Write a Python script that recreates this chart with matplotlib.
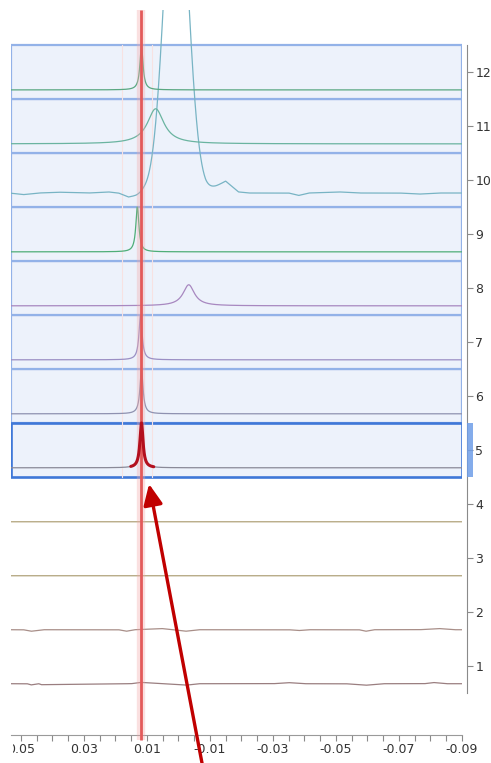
import numpy as np
import matplotlib.pyplot as plt
from matplotlib.patches import Rectangle
from matplotlib.ticker import FixedLocator, MultipleLocator
from matplotlib.transforms import blended_transform_factory, Bbox, TransformedBbox

plt.rcParams['axes.unicode_minus'] = False

# stacked traces, bottom row first
rows = [1, 2, 3, 4, 5, 6, 7, 8, 9, 10, 11, 12]
base_drop = [0.33, 0.33, 0.33, 0.33, 0.33, 0.33, 0.33, 0.33, 0.33, 0.24, 0.33, 0.33]  # baseline below row tick
peak_pos = [0.0, 0.0, 0.0, 0.0, 0.0117, 0.0117, 0.0120, -0.0033, 0.0130, 0.0007, 0.0072, 0.0117]  # ppm
peak_height = [0.0, 0.0, 0.0, 0.0, 0.83, 0.81, 0.83, 0.39, 0.83, 6.6, 0.65, 0.81]  # row units
peak_width = [0.001, 0.001, 0.001, 0.001, 0.0006, 0.0006, 0.0006, 0.0022, 0.0006, 0.0036, 0.0032, 0.0006]
peak_shape = ["none", "none", "none", "none", "lorentz", "lorentz", "lorentz", "lorentz",
              "lorentz", "gauss", "lorentz", "lorentz"]
trace_colors = ["#9a7e80", "#a88e88", "#b0a27a", "#b0a27a", "#8a8a98", "#8f92b0",
                "#9b8fc4", "#a888c0", "#4fae78", "#78b4c4", "#6ab4a0", "#5aa882"]

selected_rows = [5, 6, 7, 8, 9, 10, 11, 12]
active_row = 5
ref_ppm = 0.0117          # red reference line
active_range = (0.0151, 0.0078)  # part of the active trace drawn in red
region_lines = [0.018, 0.0085]

# baseline wiggles: ppm, offset in row units
wig10_x = [0.0537, 0.0492, 0.0443, 0.0380, 0.0285, 0.0222, 0.0190, 0.0158, 0.0133, 0.0110,
           -0.0087, -0.0119, -0.0150, -0.0191, -0.0223, -0.0350, -0.0382, -0.0414, -0.0510,
           -0.0573, -0.0700, -0.0764, -0.0827, -0.0898]
wig10_y = [0.0, -0.03, 0.0, 0.015, 0.0, 0.02, 0.0, -0.075, -0.05, 0.0,
           0.03, 0.12, 0.22, 0.02, 0.0, 0.0, -0.045, 0.0, 0.02,
           0.0, 0.0, -0.02, 0.0, 0.0]
wig2_x = [0.0537, 0.0492, 0.0467, 0.0428, 0.0190, 0.0165, 0.0139, 0.0053, 0.0015, -0.0023,
          -0.0065, -0.0350, -0.0382, -0.0414, -0.0573, -0.0595, -0.0621, -0.0764, -0.0827,
          -0.0875, -0.0898]
wig2_y = [0.0, 0.0, -0.028, 0.0, 0.0, -0.028, 0.0, 0.022, 0.0, -0.028,
          0.0, 0.0, -0.015, 0.0, 0.0, -0.028, 0.0, 0.0, 0.022,
          0.0, 0.0]
wig1_x = [0.0537, 0.0480, 0.0467, 0.0443, 0.0435, 0.0190, 0.0150, 0.0120, 0.0050, -0.0023,
          -0.0065, -0.0300, -0.0350, -0.0400, -0.0530, -0.0595, -0.0650, -0.0780, -0.0810,
          -0.0850, -0.0898]
wig1_y = [0.0, 0.0, -0.022, 0.0, -0.018, 0.0, 0.0, 0.025, 0.0, -0.028,
          0.0, 0.0, 0.02, 0.0, 0.0, -0.028, 0.0, 0.0, 0.022,
          0.0, 0.0]
wiggles = {10: (wig10_x, wig10_y), 2: (wig2_x, wig2_y), 1: (wig1_x, wig1_y)}

x_left, x_right = 0.0531, -0.0900
y_bottom, y_top = -0.28, 13.15
xticks = [0.05, 0.03, 0.01, -0.01, -0.03, -0.05, -0.07, -0.09]


def trace(x, i):
    c, h, w = peak_pos[i], peak_height[i], peak_width[i]
    if peak_shape[i] == "lorentz":
        y = h / (1 + ((x - c) / w) ** 2)
    elif peak_shape[i] == "gauss":
        y = h * np.exp(-0.5 * ((x - c) / w) ** 2)
    else:
        y = np.zeros_like(x)
    if rows[i] in wiggles:
        wx, wy = wiggles[rows[i]]
        y = y + np.interp(x, wx[::-1], wy[::-1])
    return rows[i] - base_drop[i] + y


fig = plt.figure(figsize=(4.91, 7.63), dpi=100)
ax = fig.add_axes([11 / 491, 28 / 763, 451 / 491, 725 / 763])
ax.set_xlim(x_left, x_right)
ax.set_ylim(y_bottom, y_top)

# selected rows get a light blue box
for r in selected_rows:
    active = r == active_row
    ax.add_patch(Rectangle((x_left, r - 0.5), x_right - x_left, 1.0,
                           facecolor="#edf2fb", edgecolor="#3f78d8" if active else "#93b2e8",
                           lw=1.9 if active else 1.6, zorder=1 if not active else 1.5))

for xr in region_lines:
    ax.plot([xr, xr], [4.5, 12.5], color="#f7e2e2", lw=0.8, zorder=1.6)

x = np.linspace(x_left, x_right, 3000)
for i, r in enumerate(rows):
    ax.plot(x, trace(x, i), color=trace_colors[i], lw=0.9, zorder=2)

# reference line with soft halo, running past the axes
ax.plot([ref_ppm, ref_ppm], [y_top, -0.37], color="#f2a8a8", lw=6, alpha=0.35,
        clip_on=False, zorder=3, solid_capstyle="butt")
ax.plot([ref_ppm, ref_ppm], [y_top, -0.37], color="#e35a5a", lw=2.0,
        clip_on=False, zorder=3.1, solid_capstyle="butt")

# active trace peak drawn thick red
ia = rows.index(active_row)
xa = np.linspace(active_range[0], active_range[1], 300)
ax.plot(xa, trace(xa, ia), color="#b3101e", lw=2.2, zorder=4, solid_capstyle="round")

# small blue tab next to the active row
tr = blended_transform_factory(ax.transAxes, ax.transData)
ax.add_patch(Rectangle((1.012, active_row - 0.5), 0.012, 1.0, transform=tr,
                       facecolor="#6f9ee8", edgecolor="none", alpha=0.85, clip_on=False, zorder=5))

# axes styling
for s in ["left", "top"]:
    ax.spines[s].set_visible(False)
ax.spines["right"].set_position(("outward", 3.6))
ax.spines["right"].set_bounds(0.5, 12.5)
ax.spines["right"].set_color("#8a8a8a")
ax.spines["bottom"].set_color("#9a9a9a")
ax.yaxis.tick_right()
ax.set_yticks(rows)
ax.set_yticklabels([str(r) for r in rows])
ax.xaxis.set_major_locator(FixedLocator(xticks))
ax.xaxis.set_minor_locator(MultipleLocator(0.005))
ax.set_xticklabels(["%.2f" % t for t in xticks])
ax.tick_params(axis="y", length=4, width=0.8, color="#8a8a8a", pad=2, labelsize=9, labelcolor="#333333")
ax.tick_params(axis="x", which="both", length=4, width=0.8, color="#8a8a8a", pad=2,
               labelsize=9, labelcolor="#333333")

# the first x label is cut off at the left edge of the view
clip = TransformedBbox(Bbox([[13 / 491, 0], [1, 1]]), fig.transFigure)
first = ax.get_xticklabels()[0]
first.set_clip_box(clip)
first.set_clip_on(True)

# arrow pointing at the active peak
ax.annotate("", xy=(0.0093, 4.37), xytext=(-0.0077, -0.86), xycoords="data",
            annotation_clip=False,
            arrowprops=dict(arrowstyle="-|>,head_length=0.7,head_width=0.32", color="#c00000",
                            lw=2.4, shrinkA=0, shrinkB=0, mutation_scale=18))

fig.savefig("out.png", dpi=100)
